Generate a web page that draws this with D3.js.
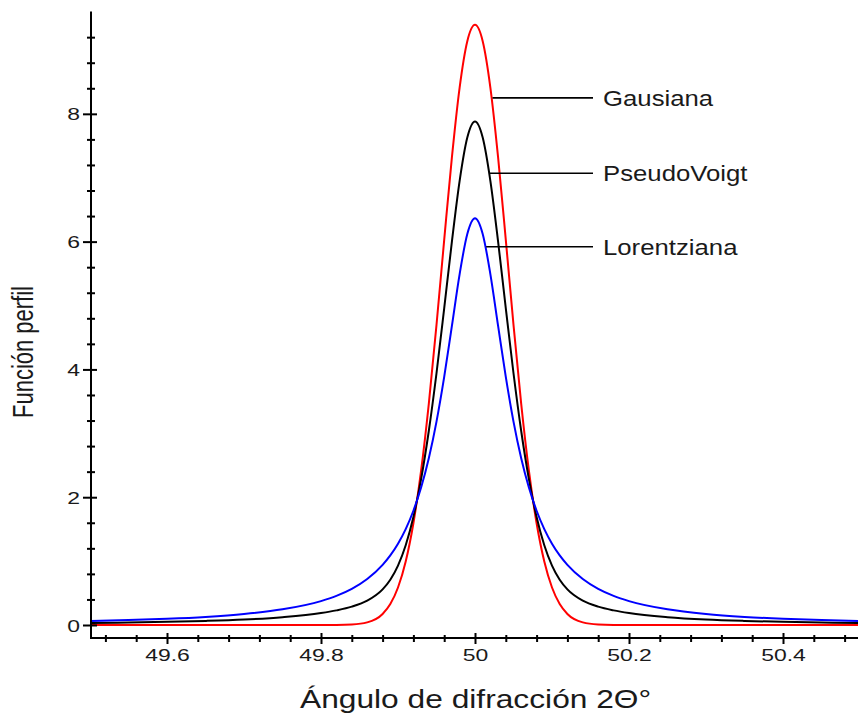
<!DOCTYPE html>
<html><head><meta charset="utf-8">
<script src="https://cdn.jsdelivr.net/npm/d3@7"></script>
<style>body{margin:0;background:#fff}svg{display:block}</style>
</head><body>
<svg id="c" width="858" height="715"></svg>
<script>
// ---- data ----
const xValues = [49.50,49.55,49.60,49.65,49.70,49.75,49.80,49.82,49.84,49.86,49.88,49.89,49.90,49.91,49.92,49.93,49.94,49.95,49.96,49.97,49.98,49.99,
  50.00,
  50.01,50.02,50.03,50.04,50.05,50.06,50.07,50.08,50.09,50.10,50.11,50.12,50.14,50.16,50.18,50.20,50.25,50.30,50.35,50.40,50.45,50.50];
const gaussValues = [0,0,0,0,0,0,0.000,0.001,0.008,0.041,0.173,0.328,0.587,0.994,1.593,2.415,3.462,4.697,6.028,7.319,8.408,9.137,
  9.394,
  9.137,8.408,7.319,6.028,4.697,3.462,2.415,1.593,0.994,0.587,0.328,0.173,0.041,0.008,0.001,0.000,0,0,0,0,0,0];
const pseudoVoigtValues = [0.032,0.039,0.049,0.064,0.086,0.123,0.187,0.229,0.287,0.381,0.558,0.709,0.930,1.248,1.691,2.283,3.036,3.940,4.955,6.000,6.948,7.629,
  7.880,
  7.629,6.948,6.000,4.955,3.940,3.036,2.283,1.691,1.248,0.930,0.709,0.558,0.381,0.287,0.229,0.187,0.123,0.086,0.064,0.049,0.039,0.032];
const lorentzValues = [0.063,0.078,0.098,0.127,0.172,0.245,0.374,0.456,0.566,0.720,0.942,1.090,1.273,1.501,1.788,2.151,2.609,3.183,3.882,4.681,5.488,6.121,
  6.366,
  6.121,5.488,4.681,3.882,3.183,2.609,2.151,1.788,1.501,1.273,1.090,0.942,0.720,0.566,0.456,0.374,0.245,0.172,0.127,0.098,0.078,0.063];

const seriesNames = ["Gausiana", "PseudoVoigt", "Lorentziana"];
const seriesColors = ["#ff0000", "#000000", "#0000ff"];
const labelLevels = [8.25, 7.07, 5.92];

const xMajorTicks = [49.6, 49.8, 50, 50.2, 50.4];
const xTickLabels = ["49.6", "49.8", "50", "50.2", "50.4"];
const xMinorTicks = [49.52,49.56,49.64,49.68,49.72,49.76,49.84,49.88,49.92,49.96,50.04,50.08,50.12,50.16,50.24,50.28,50.32,50.36,50.44,50.48];
const yMajorTicks = [0, 2, 4, 6, 8];
const yTickLabels = ["0", "2", "4", "6", "8"];
const yMinorTicks = [0.4,0.8,1.2,1.6,2.4,2.8,3.2,3.6,4.4,4.8,5.2,5.6,6.4,6.8,7.2,7.6,8.4,8.8,9.2];

const xTitle = "Ángulo de difracción 2Θ°";
const yTitle = "Función perfil";

// ---- layout ----
const svg = d3.select("#c");
const axisX = 91, axisY = 638;
const x = d3.scaleLinear().domain([49.5, 50.5]).range([90, 860]);
const y = d3.scaleLinear().domain([0, 9.6]).range([625, 11.6]);
const font = "Arial, 'Liberation Sans', sans-serif";
const textColor = "#1a1a1a";

// curves: red first, then black, then blue on top
const seriesValues = [gaussValues, pseudoVoigtValues, lorentzValues];
const line = d3.line().x(d => x(d[0])).y(d => y(d[1])).curve(d3.curveMonotoneX);
svg.append("clipPath").attr("id","clp").append("rect")
  .attr("x", axisX).attr("y", 0).attr("width", 858 - axisX).attr("height", 640);
seriesValues.forEach((vals, i) => {
  svg.append("path")
    .attr("d", line(xValues.map((xv, j) => [xv, vals[j]])))
    .attr("fill", "none").attr("stroke", seriesColors[i]).attr("stroke-width", 2)
    .attr("clip-path", "url(#clp)");
});

// axis lines
svg.append("line").attr("x1", axisX).attr("x2", axisX).attr("y1", y(9.6)).attr("y2", axisY + 1)
  .attr("stroke", "#000").attr("stroke-width", 2);
svg.append("line").attr("x1", axisX).attr("x2", 858).attr("y1", axisY).attr("y2", axisY)
  .attr("stroke", "#000").attr("stroke-width", 2);

// x axis (major with labels)
const gx = svg.append("g").attr("transform", `translate(0,${axisY})`)
  .call(d3.axisBottom(x).tickValues(xMajorTicks).tickFormat((d, i) => xTickLabels[i]));
gx.select(".domain").remove();
gx.selectAll(".tick line").attr("y1", -5).attr("y2", 6).attr("stroke", "#000").attr("stroke-width", 2);
gx.selectAll(".tick text").attr("y", null).attr("dy", null)
  .attr("transform", "translate(0,23) scale(1.35,1)")
  .attr("font-family", font).attr("font-size", 17).attr("fill", textColor).attr("text-anchor", "middle");
const gxm = svg.append("g").attr("transform", `translate(0,${axisY})`)
  .call(d3.axisBottom(x).tickValues(xMinorTicks).tickFormat(""));
gxm.select(".domain").remove();
gxm.selectAll(".tick line").attr("y1", -3).attr("y2", 4).attr("stroke", "#000").attr("stroke-width", 2);

// y axis
const gy = svg.append("g").attr("transform", `translate(${axisX},0)`)
  .call(d3.axisLeft(y).tickValues(yMajorTicks).tickFormat((d, i) => yTickLabels[i]));
gy.select(".domain").remove();
gy.selectAll(".tick line").attr("x1", -8).attr("x2", 6).attr("stroke", "#000").attr("stroke-width", 2);
gy.selectAll(".tick text").attr("x", null).attr("dy", null)
  .attr("transform", "translate(-11,6) scale(1.35,1)")
  .attr("font-family", font).attr("font-size", 17).attr("fill", textColor).attr("text-anchor", "end");
const gym = svg.append("g").attr("transform", `translate(${axisX},0)`)
  .call(d3.axisLeft(y).tickValues(yMinorTicks).tickFormat(""));
gym.select(".domain").remove();
gym.selectAll(".tick line").attr("x1", -4).attr("x2", 4).attr("stroke", "#000").attr("stroke-width", 2);

// titles
svg.append("text").text(xTitle)
  .attr("transform", "translate(300,708) scale(1.22,1)")
  .attr("font-family", font).attr("font-size", 26).attr("fill", textColor);
svg.append("text").text(yTitle)
  .attr("transform", "translate(33,352) scale(1.3,1) rotate(-90)")
  .attr("text-anchor", "middle")
  .attr("font-family", font).attr("font-size", 22).attr("fill", textColor);

// labels with leader lines starting on the right flank of each curve
function rightCrossing(vals, level) {
  const i0 = xValues.indexOf(50);
  for (let j = i0; j < xValues.length - 1; j++) {
    if (vals[j] >= level && vals[j + 1] <= level) {
      const t = (vals[j] - level) / (vals[j] - vals[j + 1]);
      return xValues[j] + t * (xValues[j + 1] - xValues[j]);
    }
  }
  return 50;
}
seriesNames.forEach((name, i) => {
  const xs = rightCrossing(seriesValues[i], labelLevels[i]);
  const yy = y(labelLevels[i]);
  svg.append("line").attr("x1", x(xs) + 1).attr("x2", 593).attr("y1", yy).attr("y2", yy)
    .attr("stroke", "#000").attr("stroke-width", 1.6);
  svg.append("text").text(name)
    .attr("transform", `translate(603,${yy + 8}) scale(1.17,1)`)
    .attr("font-family", font).attr("font-size", 22).attr("fill", textColor);
});
</script>
</body></html>
